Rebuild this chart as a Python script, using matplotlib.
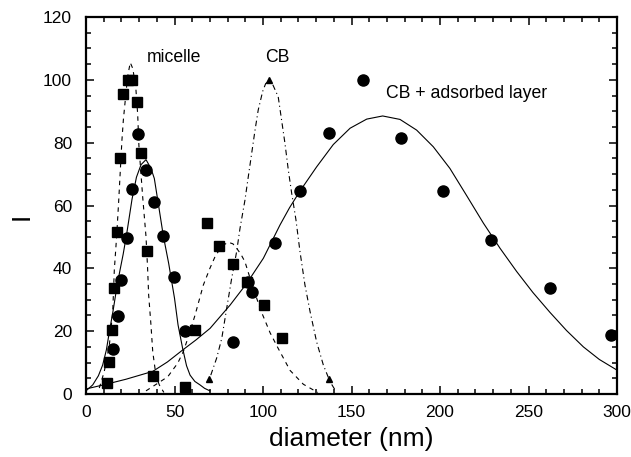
import matplotlib
matplotlib.use("Agg")
import matplotlib.pyplot as plt
from matplotlib.ticker import MultipleLocator

plt.rcParams['font.family'] = ['Liberation Sans', 'DejaVu Sans']

# ---- data points ----
sq_x = [11.7, 13.2, 14.5, 15.8, 17.7, 19.2, 21.1, 23.5, 26.1, 28.6, 31.1, 34.3, 38.0,
        56.1, 61.8, 68.2, 75.3, 82.9, 90.8, 100.6, 110.7]
sq_y = [3.4, 10.3, 20.4, 33.6, 51.7, 75.0, 95.4, 99.8, 99.8, 93.0, 76.6, 45.5, 5.7,
        2.3, 20.4, 54.3, 47.1, 41.3, 35.5, 28.2, 17.7]

ci_x = [15.4, 17.9, 20.0, 23.0, 25.8, 29.6, 33.9, 38.4, 43.7, 49.7, 56.1,
        82.9, 91.3, 94.0, 106.8, 120.9, 137.5, 156.3, 177.8, 201.5, 228.8, 262.0, 296.6]
ci_y = [14.3, 24.8, 36.3, 49.5, 65.1, 82.7, 71.3, 61.2, 50.3, 37.1, 20.2,
        16.5, 35.5, 32.4, 48.2, 64.6, 83.2, 99.8, 81.4, 64.6, 49.0, 33.7, 18.8]

tr_x = [69.5, 103.4, 137.5]
tr_y = [4.9, 100.0, 4.8]

# ---- fitted curves ----
mic_dash_x = [7.5, 10.3, 13.2, 15.1, 16.0, 17.3, 18.4, 19.4, 20.3, 21.1, 22.2, 23.5, 25.0,
              26.5, 28.2, 29.2, 29.9, 32.0, 33.9, 34.8, 35.4, 36.7, 37.7, 39.5, 41.4, 44.0]
mic_dash_y = [1.9, 7.1, 15.6, 26.2, 39.5, 50.1, 60.7, 71.3, 80.8, 87.2, 93.6, 101.0, 105.5,
              103.5, 97.0, 89.0, 79.0, 62.9, 50.1, 40.0, 31.5, 22.0, 13.5, 6.0, 2.9, 0.5]

mic_solid_x = [0.0, 3.8, 7.0, 9.4, 11.5, 13.2, 15.3, 17.3, 19.0, 21.0, 23.0, 26.0, 28.5,
               31.1, 33.9, 36.7, 38.6, 41.4, 43.7, 46.7, 48.6, 50.0, 52.0, 54.6, 56.8,
               58.8, 61.5, 64.4, 67.0, 70.0]
mic_solid_y = [1.0, 2.9, 5.8, 9.2, 14.0, 19.8, 26.5, 33.6, 38.8, 44.5, 51.0, 62.0, 69.0,
               73.0, 74.6, 71.8, 68.6, 58.6, 50.3, 41.6, 35.2, 30.5, 22.0, 14.5, 9.0,
               6.0, 4.0, 2.9, 1.8, 1.0]

cb_x = [70.5, 73.8, 76.7, 79.5, 82.3, 85.1, 87.0, 89.8, 91.7, 93.6, 95.5, 97.3, 99.8, 101.5,
        103.4, 105.5, 108.6, 110.5, 112.4, 114.3, 116.2, 118.6, 120.9, 123.7, 126.6, 130.3,
        134.1, 137.9, 140.7]
cb_y = [6.0, 11.4, 17.7, 27.3, 36.8, 45.3, 52.7, 61.7, 69.2, 76.6, 84.0, 90.4, 96.3, 98.8,
        99.6, 98.5, 94.6, 87.2, 79.8, 71.3, 63.9, 55.5, 45.3, 34.7, 26.2, 16.6,
        9.2, 3.9, 1.3]

mid_dash_x = [33.9, 40.5, 46.2, 51.8, 55.0, 58.0, 61.6, 66.3, 70.0, 72.9, 75.5, 77.6, 80.4,
              83.0, 85.1, 87.5, 89.8, 94.5, 99.2, 104.0, 108.6, 115.3, 122.8, 128.4, 131.0]
mid_dash_y = [1.0, 3.4, 5.5, 9.8, 13.5, 18.5, 25.1, 34.7, 40.0, 43.7, 46.0, 47.4, 48.3,
              47.8, 46.4, 44.5, 42.1, 33.6, 26.0, 19.5, 14.5, 7.5, 3.1, 1.3, 0.5]

ads_x = [0.0, 11.3, 22.6, 37.7, 46.0, 54.6, 62.1, 70.1, 81.4, 90.8, 100.2, 109.6, 115.0,
         120.9, 130.3, 139.7, 149.2, 158.6, 167.6, 177.4, 186.8, 196.2, 205.6, 215.0,
         224.5, 233.9, 243.3, 252.5, 262.1, 271.5, 281.0, 290.0, 300.0]
ads_y = [1.6, 3.1, 4.7, 7.2, 10.2, 14.0, 17.2, 20.9, 28.3, 35.2, 43.2, 53.8, 59.3,
         64.6, 72.3, 79.4, 84.6, 87.5, 88.5, 87.4, 84.0, 78.7, 71.8, 63.2,
         54.4, 46.4, 39.0, 32.3, 26.0, 20.2, 15.0, 11.0, 7.6]

labels = [("micelle", 34.3, 107.1), ("CB", 101.0, 107.1), ("CB + adsorbed layer", 169.5, 95.7)]

fig = plt.figure(figsize=(6.31, 4.57), dpi=100)
ax = fig.add_axes([86/631, 1-394/457, (617-86)/631, (394-17)/457])

lw = 0.8
ax.plot(mic_dash_x, mic_dash_y, color='black', lw=lw, dashes=(4, 4))
ax.plot(mid_dash_x, mid_dash_y, color='black', lw=lw, dashes=(4, 4))
ax.plot(cb_x, cb_y, color='black', lw=lw, dashes=(5, 3, 1, 3))
ax.plot(mic_solid_x, mic_solid_y, color='black', lw=lw)
ax.plot(ads_x, ads_y, color='black', lw=lw)

ax.plot(sq_x, sq_y, 's', color='black', ms=7.5, clip_on=False)
ax.plot(ci_x, ci_y, 'o', color='black', ms=8, clip_on=False)
ax.plot(tr_x, tr_y, '^', color='black', ms=5, clip_on=False)

for t, x, y in labels:
    ax.text(x, y, t, fontsize=12.7, ha='left', va='center')

ax.set_xlim(0, 300)
ax.set_ylim(0, 120)
ax.xaxis.set_major_locator(MultipleLocator(50))
ax.xaxis.set_minor_locator(MultipleLocator(10))
ax.yaxis.set_major_locator(MultipleLocator(20))
ax.yaxis.set_minor_locator(MultipleLocator(5))
ax.tick_params(which='both', direction='in', top=True, right=True, width=1.1)
ax.tick_params(which='major', length=6, labelsize=12.5)
ax.tick_params(axis='x', which='major', pad=8)
ax.tick_params(axis='y', which='major', pad=10)
ax.tick_params(which='minor', length=3.5)
for s in ax.spines.values():
    s.set_linewidth(1.6)

ax.set_xlabel('diameter (nm)', fontsize=19)
ax.set_ylabel('I', fontsize=19)
ax.xaxis.set_label_coords(0.5, -0.088)
ax.yaxis.set_label_coords(-0.098, 0.47)

fig.savefig('out.png', dpi=100)
